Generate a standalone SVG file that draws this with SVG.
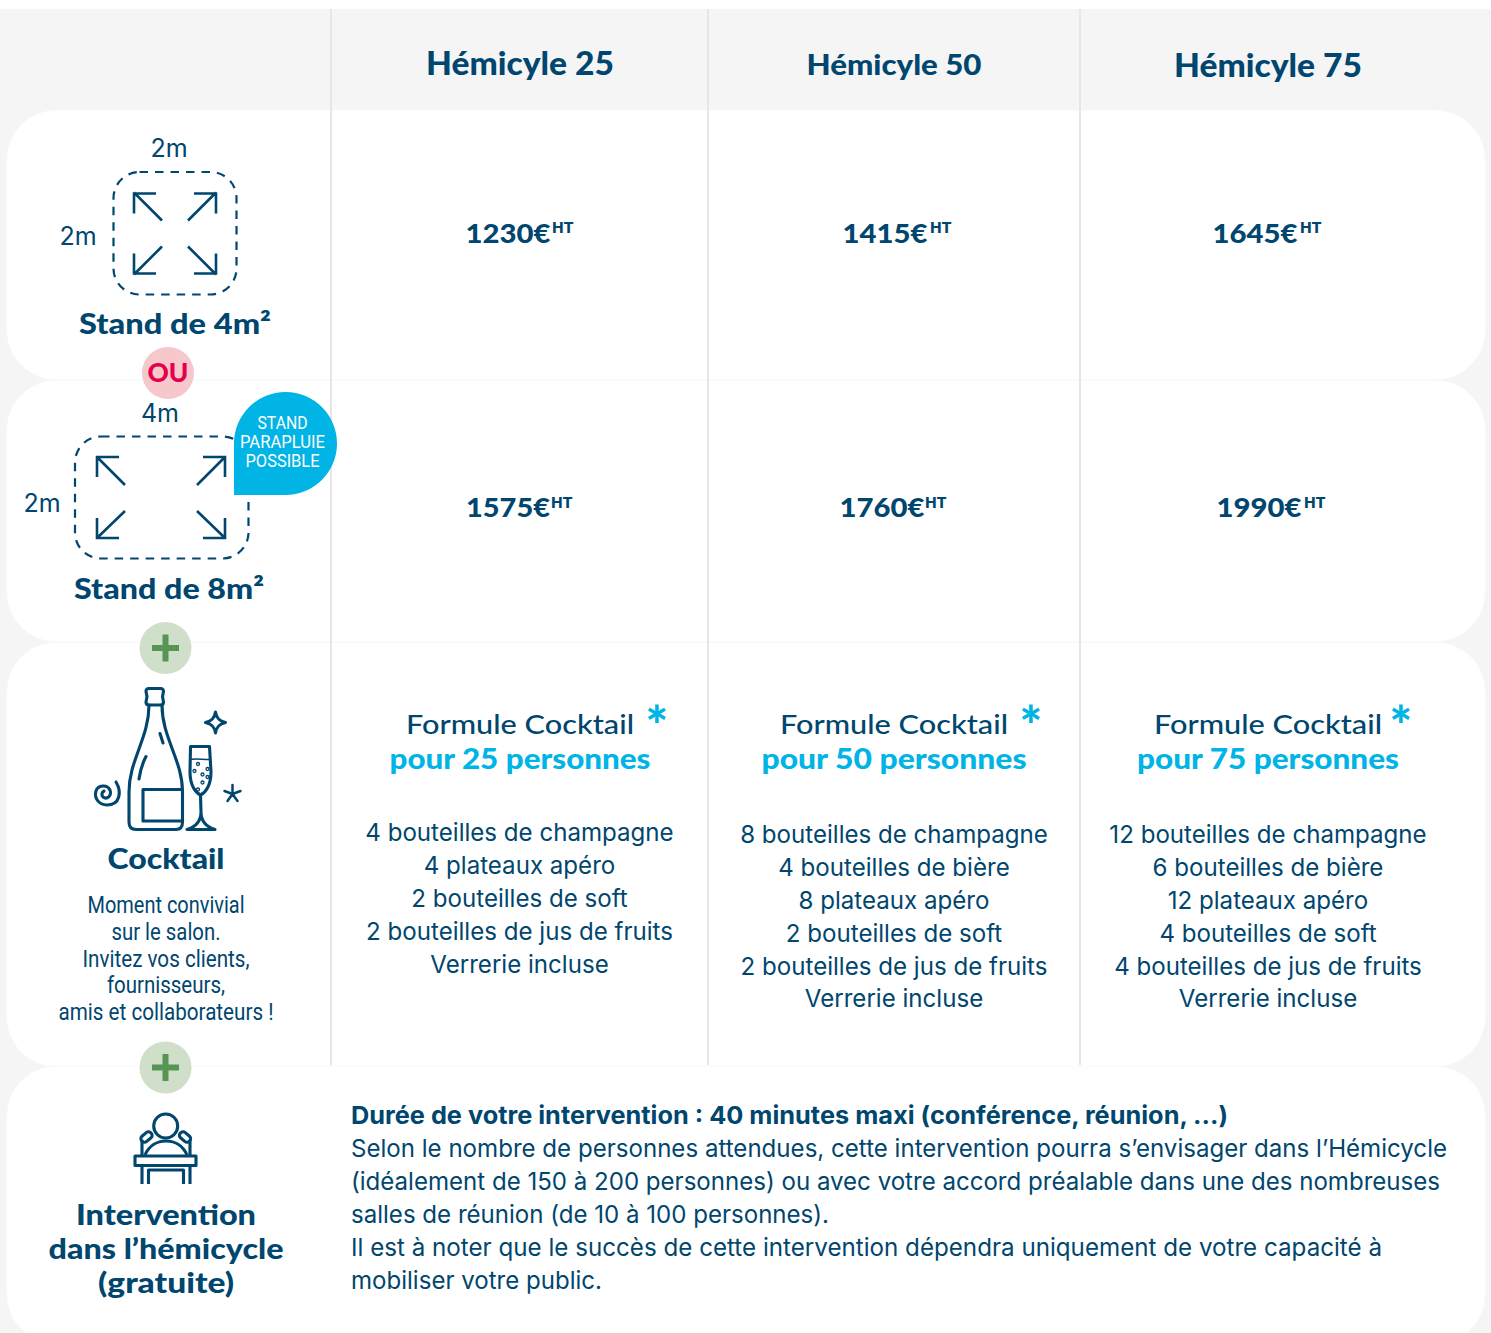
<svg xmlns="http://www.w3.org/2000/svg" width="1491" height="1333" viewBox="0 0 1491 1333">
<style>
text{font-family:"Inter","Liberation Sans",sans-serif;fill:#00466e;text-anchor:middle}
.h{font-family:"Lato","Open Sans",sans-serif;font-weight:900}
.t{font-size:31.500px}
.t2{font-size:29px}
.price{font-size:27px}
.sup{font-size:15px;font-family:"Inter",sans-serif;font-weight:800}
.lbl{font-size:25px}
.b{font-size:24.100px}
.n{font-size:24px;font-family:"Liberation Sans Narrow","Roboto",sans-serif}
.nb{font-size:18.500px;fill:#fff;font-family:"Liberation Sans Narrow","Roboto",sans-serif}
.fc{font-size:27.500px;font-family:"Lato",sans-serif;font-weight:500}
.p{font-size:28px;fill:#00b4e6}
.star{font-size:54px;fill:#00b4e6;font-family:"Lato",sans-serif;font-weight:900}
.body{font-size:24.500px;text-anchor:start}
.lab{font-size:28px}
.panel{fill:#fff;stroke:#f8f8f8;stroke-width:1}
.vl{stroke:#e6e6e6;stroke-width:2}
.ar{fill:none;stroke:#00466e;stroke-width:2.600}
.dash{fill:none;stroke:#00466e;stroke-width:2.200;stroke-dasharray:8.500 7}
.ico{fill:none;stroke:#00466e;stroke-width:3.100;stroke-linecap:round;stroke-linejoin:round}
.plus{fill:#cfdfca}
.plusm{fill:#569553}
</style>
<defs>
<g id="arrows4" class="ar">
<path d="M-41 -41L-13 -13M-41 -20V-40H-19"/>
<path d="M41 -41L13 -13M41 -20V-40H19"/>
<path d="M-41 41L-13 13M-41 20V40H-19"/>
<path d="M41 41L13 13M41 20V40H19"/>
</g>
<g id="plusb"><circle r="26" class="plus"/><path class="plusm" d="M-3 -13.500H3V-3H13.500V3H3V13.500H-3V3H-13.500V-3H-3Z"/></g>
</defs>
<rect width="1491" height="1333" fill="#fff"/>
<rect y="9" width="1491" height="1324" fill="#f5f5f5"/>
<g id="panels">
<rect class="panel" x="6.500" y="110" width="1479" height="270" rx="50"/>
<rect class="panel" x="6.500" y="380" width="1479" height="262" rx="50"/>
<rect class="panel" x="6.500" y="642" width="1479" height="425" rx="50"/>
<rect class="panel" x="6.500" y="1066" width="1479" height="278" rx="50"/>
</g>
<g id="grid">
<path class="vl" d="M331 9V1065M708 9V1065M1080 9V1065"/>
</g>
<g id="header">
<text class="h t" x="520" y="75" textLength="188" lengthAdjust="spacingAndGlyphs">Hémicyle 25</text>
<text class="h t2" x="894" y="75" textLength="175" lengthAdjust="spacingAndGlyphs">Hémicyle 50</text>
<text class="h t" x="1268" y="77" textLength="188" lengthAdjust="spacingAndGlyphs">Hémicyle 75</text>
</g>
<g id="stand4">
<text class="lbl" x="169" y="157">2m</text>
<text class="lbl" x="78" y="245">2m</text>
<rect class="dash" x="113.500" y="172" width="123" height="122.500" rx="26"/>
<use href="#arrows4" x="175" y="233.500"/>
<text class="h lab" x="175" y="334" textLength="192" lengthAdjust="spacingAndGlyphs">Stand de 4m²</text>
</g>
<g id="ou">
<circle cx="168" cy="373" r="26" fill="#f6c7cb"/>
<text class="h" style="font-size:27px;fill:#e6004c" x="168" y="381.500" textLength="41" lengthAdjust="spacingAndGlyphs">OU</text>
</g>
<g id="stand8">
<text class="lbl" x="160" y="422">4m</text>
<text class="lbl" x="42" y="512">2m</text>
<rect class="dash" x="75" y="436.500" width="173.500" height="122" rx="26"/>
<g class="ar">
<path d="M97 457L125 485M97 477V457H119"/>
<path d="M225 457L197 485M225 477V457H203"/>
<path d="M97 538L125 511M97 518V538H119"/>
<path d="M225 538L197 511M225 518V538H203"/>
</g>
<text class="h lab" x="169" y="599" textLength="190" lengthAdjust="spacingAndGlyphs">Stand de 8m²</text>
</g>
<g id="badge">
<path d="M234 495V443A51.500 51.500 0 1 1 285.500 495Z" fill="#00b4e6"/>
<text class="nb" x="282.500" y="429" textLength="50" lengthAdjust="spacingAndGlyphs">STAND</text>
<text class="nb" x="282.500" y="448" textLength="85" lengthAdjust="spacingAndGlyphs">PARAPLUIE</text>
<text class="nb" x="282.500" y="467" textLength="74" lengthAdjust="spacingAndGlyphs">POSSIBLE</text>
</g>
<g id="prices">
<text class="h price" x="508" y="242.500" textLength="85" lengthAdjust="spacingAndGlyphs">1230€</text><text class="sup" x="563" y="233">HT</text>
<text class="h price" x="885" y="242.500" textLength="85" lengthAdjust="spacingAndGlyphs">1415€</text><text class="sup" x="941" y="233">HT</text>
<text class="h price" x="1255" y="242.500" textLength="85" lengthAdjust="spacingAndGlyphs">1645€</text><text class="sup" x="1311" y="233">HT</text>
<text class="h price" x="508" y="516.500" textLength="84" lengthAdjust="spacingAndGlyphs">1575€</text><text class="sup" x="562" y="508">HT</text>
<text class="h price" x="882" y="516.500" textLength="85" lengthAdjust="spacingAndGlyphs">1760€</text><text class="sup" x="936" y="508">HT</text>
<text class="h price" x="1259" y="516.500" textLength="85" lengthAdjust="spacingAndGlyphs">1990€</text><text class="sup" x="1315" y="508">HT</text>
</g>
<g id="plus1"><use href="#plusb" x="165.500" y="648"/></g>
<g id="cocktail-icon" class="ico">
<path d="M149 688.500H160.500Q163.500 688.500 163.500 691.500L162.500 696.500L163.500 702Q163.500 705 160.500 705H149Q146 705 146 702L147 696.500L146 691.500Q146 688.500 149 688.500Z"/>
<path d="M149 705C149 738 129 760 129 792V822Q129 829.500 136 829.500H176Q182.500 829.500 182.500 822V792C182.500 760 162 738 162 705"/>
<path d="M143 789.500H182M143 789.500V821H182"/>
<path d="M146 756.500C141 766 140 772 139 779M160 733.500L163 743"/>
<path d="M190.500 746.500H209.500L211 772C211 786 205 793 200.500 795C196 793 190 786 190 772Z"/>
<path d="M190 759.500C196 758 204 760 210.500 759.500" style="stroke-width:1.500"/>
<path d="M200.500 795L201 812C201 822 195 827 187 829.500H215C207 827 201 822 201 812"/>
<path d="M116 782C122 792 120 805 107 805C98 805 94 797 96 791C98 785 107 784 110 790C112 796 107 800 103 797C101 795 102 792 104 791"/>
<path d="M215.500 712C216.500 718 219 721 225.500 722.500C219 724 216.500 727 215.500 733C214.500 727 212 724 205.500 722.500C212 721 214.500 718 215.500 712Z"/>
<path style="stroke-width:2.500" d="M232.500 785V792M232.500 794L240.500 791M232.500 794L224.500 791M232.500 794L237.500 801M232.500 794L227.500 801"/>
<g style="stroke-width:1.300"><circle cx="198" cy="764" r="1.500"/><circle cx="194.500" cy="771" r="1.500"/><circle cx="207.500" cy="769" r="1.500"/><circle cx="202.500" cy="774.500" r="1.500"/><circle cx="207.500" cy="777" r="1.500"/><circle cx="202.500" cy="782.500" r="1.500"/><circle cx="198" cy="789.500" r="1.500"/></g>
</g>
<g id="cocktail-label">
<text class="h lab" x="166" y="869" textLength="117" lengthAdjust="spacingAndGlyphs">Cocktail</text>
<text class="n" x="166" y="913" textLength="157" lengthAdjust="spacingAndGlyphs">Moment convivial</text>
<text class="n" x="166" y="940" textLength="109" lengthAdjust="spacingAndGlyphs">sur le salon.</text>
<text class="n" x="166" y="967" textLength="167" lengthAdjust="spacingAndGlyphs">Invitez vos clients,</text>
<text class="n" x="166" y="993" textLength="118" lengthAdjust="spacingAndGlyphs">fournisseurs,</text>
<text class="n" x="166" y="1019.500" textLength="215" lengthAdjust="spacingAndGlyphs">amis et collaborateurs !</text>
</g>
<g id="col25">
<text class="fc" x="520" y="733.500" textLength="228" lengthAdjust="spacingAndGlyphs">Formule Cocktail</text>
<text class="star" x="657" y="745">*</text>
<text class="h p" x="520" y="769" textLength="261" lengthAdjust="spacingAndGlyphs">pour 25 personnes</text>
<text class="b" x="519.500" y="841">4 bouteilles de champagne</text>
<text class="b" x="519.500" y="874">4 plateaux apéro</text>
<text class="b" x="519.500" y="907">2 bouteilles de soft</text>
<text class="b" x="519.500" y="940">2 bouteilles de jus de fruits</text>
<text class="b" x="519.500" y="973">Verrerie incluse</text>
</g>
<g id="col50">
<text class="fc" x="894" y="733.500" textLength="228" lengthAdjust="spacingAndGlyphs">Formule Cocktail</text>
<text class="star" x="1031" y="745">*</text>
<text class="h p" x="894" y="769" textLength="265" lengthAdjust="spacingAndGlyphs">pour 50 personnes</text>
<text class="b" x="894" y="843">8 bouteilles de champagne</text>
<text class="b" x="894" y="876">4 bouteilles de bière</text>
<text class="b" x="894" y="909">8 plateaux apéro</text>
<text class="b" x="894" y="942">2 bouteilles de soft</text>
<text class="b" x="894" y="975">2 bouteilles de jus de fruits</text>
<text class="b" x="894" y="1007">Verrerie incluse</text>
</g>
<g id="col75">
<text class="fc" x="1268" y="733.500" textLength="228" lengthAdjust="spacingAndGlyphs">Formule Cocktail</text>
<text class="star" x="1401" y="745">*</text>
<text class="h p" x="1268" y="769" textLength="262" lengthAdjust="spacingAndGlyphs">pour 75 personnes</text>
<text class="b" x="1268" y="843">12 bouteilles de champagne</text>
<text class="b" x="1268" y="876">6 bouteilles de bière</text>
<text class="b" x="1268" y="909">12 plateaux apéro</text>
<text class="b" x="1268" y="942">4 bouteilles de soft</text>
<text class="b" x="1268" y="975">4 bouteilles de jus de fruits</text>
<text class="b" x="1268" y="1007">Verrerie incluse</text>
</g>
<g id="plus2"><use href="#plusb" x="165.500" y="1067.500"/></g>
<g id="intervention-icon" class="ico" style="stroke-linecap:butt">
<circle cx="165.700" cy="1126" r="12"/>
<rect x="135" y="1156" width="61" height="9.500"/>
<rect x="143" y="1131" width="7" height="12" rx="3" transform="rotate(50 146.500 1137)"/>
<rect x="181.500" y="1131" width="7" height="12" rx="3" transform="rotate(-50 185 1137)"/>
<path d="M142 1155V1140M190 1155V1140"/>
<path d="M145 1155C149 1146 157 1141 166 1141C175 1141 183 1146 187 1155"/>
<path d="M142 1165V1184M190 1165V1184M148.500 1184V1170H183.500V1184"/>
</g>
<g id="intervention-label">
<text class="h lab" x="166" y="1225" textLength="180" lengthAdjust="spacingAndGlyphs">Intervention</text>
<text class="h lab" x="166" y="1259" textLength="235" lengthAdjust="spacingAndGlyphs">dans l’hémicycle</text>
<text class="h lab" x="166" y="1293" textLength="136" lengthAdjust="spacingAndGlyphs">(gratuite)</text>
</g>
<g id="intervention-text">
<text class="body" x="351" y="1124" style="font-weight:700" textLength="877" lengthAdjust="spacingAndGlyphs">Durée de votre intervention : 40 minutes maxi (conférence, réunion, ...)</text>
<text class="body" x="351" y="1157" textLength="1096" lengthAdjust="spacingAndGlyphs">Selon le nombre de personnes attendues, cette intervention pourra s’envisager dans l’Hémicycle</text>
<text class="body" x="351" y="1190" textLength="1089" lengthAdjust="spacingAndGlyphs">(idéalement de 150 à 200 personnes) ou avec votre accord préalable dans une des nombreuses</text>
<text class="body" x="351" y="1223" textLength="478" lengthAdjust="spacingAndGlyphs">salles de réunion (de 10 à 100 personnes).</text>
<text class="body" x="351" y="1256" textLength="1031" lengthAdjust="spacingAndGlyphs">Il est à noter que le succès de cette intervention dépendra uniquement de votre capacité à</text>
<text class="body" x="351" y="1289" textLength="251" lengthAdjust="spacingAndGlyphs">mobiliser votre public.</text>
</g>
</svg>
